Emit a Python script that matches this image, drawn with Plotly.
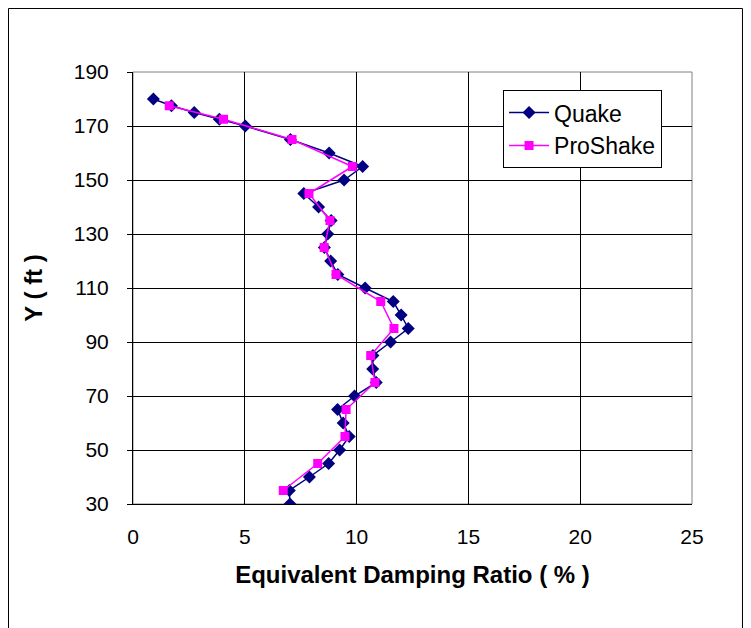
import plotly.graph_objects as go

# Quake results
quake_y = [180, 177.5, 175, 172.5, 170, 165, 160, 155, 150, 145, 140, 135, 130, 125,
           120, 115, 110, 105, 100, 95, 90, 85, 80, 75, 70, 65, 60, 55, 50, 45, 40, 35, 30]
quake_damping = [0.91, 1.72, 2.74, 3.86, 5.02, 7.04, 8.77, 10.27, 9.44, 7.64, 8.30, 8.86,
                 8.71, 8.56, 8.84, 9.16, 10.38, 11.64, 11.99, 12.31, 11.52, 10.73, 10.72,
                 10.88, 9.91, 9.15, 9.40, 9.67, 9.24, 8.75, 7.89, 6.99, 7.02]

# ProShake results
proshake_y = [177.5, 172.5, 165, 155, 145, 135, 125, 115, 105, 95, 85, 75, 65, 55, 45, 35]
proshake_damping = [1.62, 4.05, 7.11, 9.81, 7.87, 8.81, 8.55, 9.08, 11.08, 11.67, 10.63,
                    10.82, 9.53, 9.48, 8.26, 6.72]

x_ticks = [0, 5, 10, 15, 20, 25]
y_ticks = [30, 50, 70, 90, 110, 130, 150, 170, 190]

font = "Liberation Sans, Arial, sans-serif"

fig = go.Figure()
fig.add_trace(go.Scatter(
    x=quake_damping, y=quake_y, name="Quake", mode="lines+markers",
    line=dict(color="#000080", width=1.5),
    marker=dict(symbol="diamond", size=10, color="#000080"),
))
fig.add_trace(go.Scatter(
    x=proshake_damping, y=proshake_y, name="ProShake", mode="lines+markers",
    line=dict(color="#FF00FF", width=1.5),
    marker=dict(symbol="square", size=9, color="#FF00FF"),
))

# page body has an 8px margin, so the figure is a bit smaller than the window
fig.update_layout(
    width=743, height=620,
    margin=dict(l=125, r=59, t=64, b=124),
    paper_bgcolor="white", plot_bgcolor="white",
    font=dict(family=font, color="black", size=20),
    legend=dict(
        x=0.662, y=0.958, xanchor="left", yanchor="top",
        bordercolor="black", borderwidth=1, bgcolor="white",
        font=dict(size=23), itemwidth=40, tracegroupgap=2,
    ),
    shapes=[
        # chart area frame (bottom edge runs off the page)
        dict(type="rect", xref="paper", yref="paper",
             x0=-0.2227, x1=1.0903, y0=-0.34, y1=1.147,
             line=dict(color="black", width=1)),
        # plot area border, grey on top/right
        dict(type="rect", xref="paper", yref="paper",
             x0=0, x1=1, y0=0, y1=1, layer="below",
             line=dict(color="#808080", width=1)),
    ],
)

fig.update_xaxes(
    range=[0, 25], tickvals=x_ticks,
    showgrid=True, gridcolor="black", gridwidth=1,
    showline=True, linecolor="black", mirror=False,
    zeroline=False, ticks="", ticklen=0,
    ticklabelstandoff=14,
    tickfont=dict(size=21),
    title=dict(text="<b>Equivalent Damping Ratio ( % )</b>", font=dict(size=24), standoff=18),
)
fig.update_yaxes(
    range=[30, 190], tickvals=y_ticks,
    showgrid=True, gridcolor="black", gridwidth=1,
    showline=True, linecolor="black", mirror=False,
    zeroline=False, ticks="outside", ticklen=5, tickcolor="black",
    ticklabelstandoff=14,
    tickfont=dict(size=21),
    title=dict(text="<b>Y ( ft )</b>", font=dict(size=24), standoff=24),
)

fig.write_html("out.html")
